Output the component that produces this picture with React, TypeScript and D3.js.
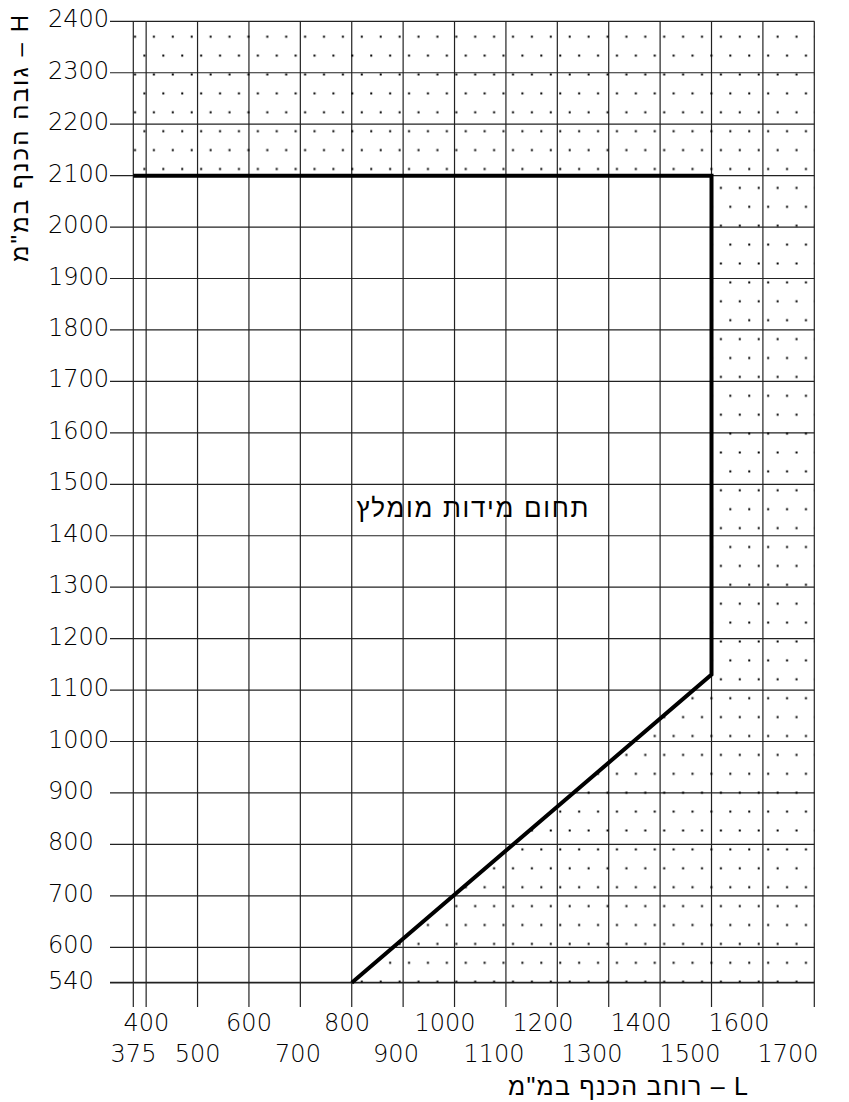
import React from 'react';
import * as d3 from 'd3';

// grid values (mm)
const xGrid = [375, 400, 500, 600, 700, 800, 900, 1000, 1100, 1200, 1300, 1400, 1500, 1600, 1700];
const xLabelsTop = [400, 600, 800, 1000, 1200, 1400, 1600];
const xLabelsBottom = [375, 500, 700, 900, 1100, 1300, 1500, 1700];
const yTicks = [540, 600, 700, 800, 900, 1000, 1100, 1200, 1300, 1400, 1500, 1600, 1700, 1800, 1900, 2000, 2100, 2200, 2300, 2400];

// recommended range boundary (L, H)
const boundary: [number, number][] = [
  [375, 2100],
  [1500, 2100],
  [1500, 1130],
  [800, 540],
];
const recommendedCorner: [number, number] = [375, 540];

const xDomain = [375, 1700];
const yDomain = [540, 2400];

const FONT = "'DejaVu Sans', sans-serif";
const HEB_FONT = "'Liberation Sans', 'DejaVu Sans', sans-serif";

export default function App() {
  const x = d3.scaleLinear().domain(xDomain).range([133.3, 814.3]);
  // 540 row sits a bit below the regular spacing in the drawing
  const y = d3.scaleLinear().domain([540, 600, 2400]).range([982.7, 947.3, 21.3]);
  // tick labels under the axis drift left of their lines
  const xLab = d3.scaleLinear().domain([375, 600, 1700]).range([133.5, 249, 788]);

  const line = d3.line<[number, number]>().x(d => x(d[0])).y(d => y(d[1]));

  const outer: [number, number][] = [
    [xDomain[0], yDomain[0]],
    [xDomain[1], yDomain[0]],
    [xDomain[1], yDomain[1]],
    [xDomain[0], yDomain[1]],
  ];
  const inner = [...boundary, recommendedCorner];
  const hatchPath = line(outer) + 'Z' + line(inner) + 'Z';

  const pw = 18.9, ph = 37.8;
  const top = y(yDomain[1]);
  const bottomEnd = 1007;

  return (
    <svg width={849} height={1102} style={{ position: 'absolute', left: 0, top: 0, background: '#fff' }}
      fontFamily={FONT}>
      <defs>
        <pattern id="dots" patternUnits="userSpaceOnUse" x={135 - pw / 4} y={36.7 - ph / 4} width={pw} height={ph}>
          <rect x={pw / 4 - 1} y={ph / 4 - 1} width={2} height={2} fill="#000" />
          <rect x={(3 * pw) / 4 - 1} y={(3 * ph) / 4 - 1} width={2} height={2} fill="#000" />
        </pattern>
      </defs>
      <rect width={849} height={1102} fill="#fff" />

      {/* grid */}
      <g stroke="#222" strokeWidth={1.2}>
        {xGrid.map(v => (
          <line key={'vx' + v} x1={x(v)} x2={x(v)} y1={top} y2={bottomEnd} />
        ))}
        {yTicks.map(v => (
          <line key={'hy' + v} x1={110} x2={x(xDomain[1])} y1={y(v)} y2={y(v)} strokeWidth={v === 540 ? 1.8 : 1.2} />
        ))}
      </g>

      {/* dotted area outside the recommended range */}
      <path d={hatchPath} fill="url(#dots)" fillRule="evenodd" stroke="none" />

      {/* boundary */}
      <path d={line(boundary) || ''} fill="none" stroke="#000" strokeWidth={4} strokeLinejoin="miter" />

      {/* y labels */}
      <g fontSize={24} fill="#000" fontWeight={200}>
        {yTicks.map(v => (
          <text key={'ly' + v} x={48} y={y(v) + 6}>{v}</text>
        ))}
      </g>

      {/* x labels, two rows */}
      <g fontSize={24} fill="#000" textAnchor="middle" fontWeight={200}>
        {xLabelsTop.map(v => (
          <text key={'lt' + v} x={xLab(v)} y={1030.5}>{v}</text>
        ))}
        {xLabelsBottom.map(v => (
          <text key={'lb' + v} x={xLab(v)} y={1061.5}>{v}</text>
        ))}
      </g>

      {/* axis titles */}
      <g fontFamily={HEB_FONT} fill="#000">
        <text x={748} y={1095} fontSize={25} textAnchor="end" textLength={240} lengthAdjust="spacing">רוחב הכנף במ"מ – L</text>
        <text transform="translate(28,15) rotate(-90)" fontSize={24} textAnchor="end" textLength={247} lengthAdjust="spacing">גובה הכנף במ"מ – H</text>
        {/* region label */}
        <text x={472.5} y={517} fontSize={26} textAnchor="middle" textLength={232} lengthAdjust="spacing">תחום מידות מומלץ</text>
      </g>
    </svg>
  );
}
